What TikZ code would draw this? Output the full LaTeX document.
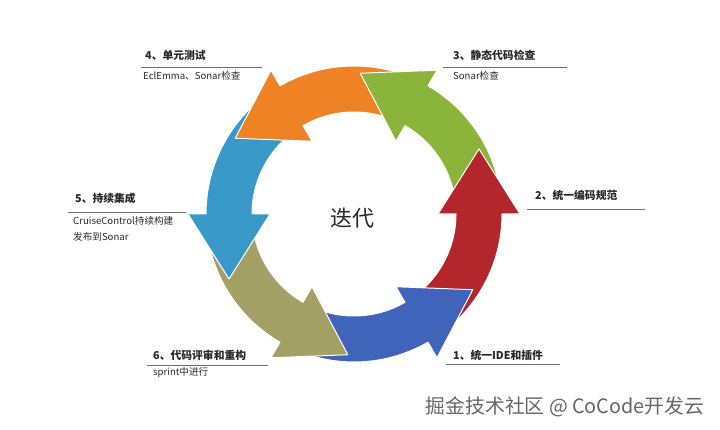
\documentclass[tikz,border=0pt]{standalone}
\usepackage{fontspec}
\setmainfont{Liberation Sans}
\newfontfamily\cjk{Noto Sans CJK SC}
\usetikzlibrary{calc}
\definecolor{cblue}{RGB}{64,100,185}
\definecolor{cred}{RGB}{178,38,44}
\definecolor{cgreen}{RGB}{138,180,58}
\definecolor{corange}{RGB}{238,130,36}
\definecolor{cteal}{RGB}{56,152,200}
\definecolor{colive}{RGB}{162,160,100}
\definecolor{txt}{RGB}{40,40,40}
\definecolor{rule}{RGB}{110,110,110}
\tikzset{
  arrowshape/.style={draw=white, line width=1pt, line join=round},
  headtext/.style={font=\cjk\bfseries\fontsize{10.8}{12}\selectfont, text=txt, anchor=west, inner sep=0pt},
  subtext/.style={font=\cjk\fontsize{9.6}{11}\selectfont, text=txt, anchor=west, inner sep=0pt},
  underrule/.style={draw=rule, line width=0.7pt}
}
% #1 colour, #2 start angle, #3 head angle
\newcommand\cycarrow[3]{%
  \filldraw[arrowshape, fill=#1]
    ($(C)+(#2:148)$) arc[start angle=#2, end angle=#3, radius=148]
    -- ($(C)+(#3:166)$) -- ($(C)+(#3:125)+(#3+90:65)$) -- ($(C)+(#3:84)$)
    -- ($(C)+(#3:102)$) arc[start angle=#3, end angle=#2, radius=102] -- cycle;}
\begin{document}
\begin{tikzpicture}[x=1pt,y=1pt]
\useasboundingbox (0,0) rectangle (720,430);
\fill[white] (0,0) rectangle (720,430);
\coordinate (C) at (354,216);
% arrows, each head over the next tail
\cycarrow{colive}{180}{240}
\cycarrow{cteal}{120}{180}
\cycarrow{corange}{60}{120}
\cycarrow{cgreen}{0}{60}
\cycarrow{cred}{-60}{0}
\cycarrow{cblue}{240}{300}
% olive head again, over the blue tail
\fill[colive]
  ($(C)+(228:148)$) arc[start angle=228, end angle=240, radius=148]
  -- ($(C)+(240:166)$) -- ($(C)+(240:125)+(330:65)$) -- ($(C)+(240:84)$)
  -- ($(C)+(240:102)$) arc[start angle=240, end angle=228, radius=102] -- cycle;
\draw[arrowshape]
  ($(C)+(228:148)$) arc[start angle=228, end angle=240, radius=148]
  -- ($(C)+(240:166)$) -- ($(C)+(240:125)+(330:65)$) -- ($(C)+(240:84)$)
  -- ($(C)+(240:102)$) arc[start angle=240, end angle=228, radius=102];
% centre
\node[font=\cjk\fontsize{22}{24}\selectfont, text=txt] (center) at (352,212) {迭代};
% label 4
\node[headtext] (h4) at (145,375) {4、单元测试};
\draw[underrule] (141,363) -- (262,363);
\node[subtext] (s4) at (143,354) {EclEmma、Sonar检查};
% label 3
\node[headtext] (h3) at (453,375) {3、静态代码检查};
\draw[underrule] (443,363) -- (567,363);
\node[subtext] (s3) at (453,354) {Sonar检查};
% label 2
\node[headtext] (h2) at (535,235) {2、统一编码规范};
\draw[underrule] (527,221) -- (645,221);
% label 5
\node[headtext] (h5) at (75,232) {5、持续集成};
\draw[underrule] (68,218) -- (186,218);
\node[subtext] (s5a) at (73,209) {CruiseControl持续构建};
\node[subtext] (s5b) at (73,193) {发布到Sonar};
% label 6
\node[headtext] (h6) at (153,75) {6、代码评审和重构};
\draw[underrule] (147,65) -- (268,65);
\node[subtext] (s6) at (153,57) {sprint中进行};
% label 1
\node[headtext] (h1) at (453,75) {1、统一IDE和插件};
\draw[underrule] (446,66) -- (560,66);
% watermark
\node[font=\cjk\fontsize{19.8}{21}\selectfont, text=black!60] (wm) at (565,23) {掘金技术社区 @ CoCode开发云};
\end{tikzpicture}
\end{document}
